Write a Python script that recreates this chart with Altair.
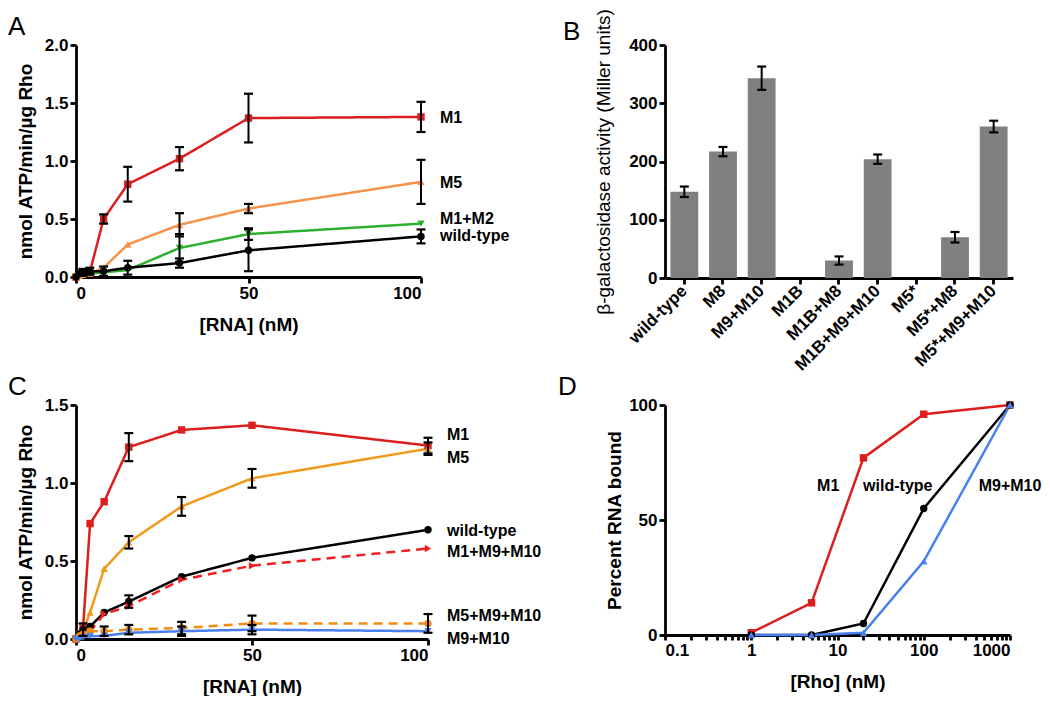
import altair as alt
import pandas as pd

FONT = "Liberation Sans"

# ---------------- Panel A ----------------
RNA_NM = [0, 1, 2, 4, 8, 15, 30, 50, 100]
A_SERIES = ["M1", "M5", "M1+M2", "wild-type"]
A_M1 = [0.0, 0.03, 0.04, 0.04, 0.50, 0.80, 1.02, 1.37, 1.38]
A_M1_ERR = [0, 0, 0.01, 0.01, 0.04, 0.15, 0.10, 0.21, 0.13]
A_M5 = [0.0, 0.01, 0.02, 0.03, 0.08, 0.28, 0.45, 0.59, 0.82]
A_M5_ERR = [0, 0, 0, 0, 0, 0, 0.10, 0.04, 0.19]
A_M1M2 = [0.0, 0.01, 0.02, 0.03, 0.04, 0.06, 0.25, 0.37, 0.46]
A_M1M2_ERR = [0, 0, 0, 0, 0, 0, 0.12, 0.05, 0]
A_WT = [0.0, 0.03, 0.04, 0.05, 0.05, 0.08, 0.12, 0.23, 0.35]
A_WT_ERR = [0, 0.02, 0.03, 0.03, 0.04, 0.06, 0.04, 0.18, 0.06]
A_COLORS = ["#dc1e1e", "#f5924c", "#2eb02e", "#000000"]
A_SHAPES = ["square", "triangle-up", "triangle-down", "circle"]
A_LABEL_Y = [1.37, 0.81, 0.50, 0.35]

# ---------------- Panel B ----------------
B_CATS = ["wild-type", "M8", "M9+M10", "M1B", "M1B+M8", "M1B+M9+M10",
          "M5*", "M5*+M8", "M5*+M9+M10"]
B_VALS = [148, 217, 343, 0, 30, 204, 0, 70, 260]
B_ERR = [9, 8, 20, 0, 7, 8, 0, 9, 10]

# ---------------- Panel C ----------------
C_SERIES = ["M1", "M5", "wild-type", "M1+M9+M10", "M5+M9+M10", "M9+M10"]
C_M1 = [0.0, 0.03, 0.07, 0.74, 0.88, 1.23, 1.34, 1.37, 1.24]
C_M1_ERR = [0, 0, 0, 0, 0, 0.09, 0, 0, 0.05]
C_M5 = [0.0, 0.02, 0.05, 0.17, 0.45, 0.62, 0.85, 1.03, 1.22]
C_M5_ERR = [0, 0, 0, 0, 0, 0.04, 0.06, 0.06, 0.04]
C_WT = [0.0, 0.03, 0.06, 0.08, 0.17, 0.24, 0.40, 0.52, 0.70]
C_WT_ERR = [0, 0, 0.04, 0, 0, 0.04, 0, 0, 0]
C_M1M9M10 = [0.0, 0.01, 0.02, 0.05, 0.16, 0.21, 0.38, 0.47, 0.58]
C_M1M9M10_ERR = [0, 0, 0, 0, 0, 0, 0, 0, 0]
C_M5M9M10 = [0.0, 0.02, 0.03, 0.05, 0.05, 0.06, 0.07, 0.10, 0.10]
C_M5M9M10_ERR = [0, 0, 0, 0, 0.03, 0.03, 0.04, 0.05, 0.06]
C_M9M10 = [0.0, 0.0, 0.01, 0.02, 0.02, 0.04, 0.05, 0.06, 0.05]
C_M9M10_ERR = [0, 0, 0, 0, 0, 0, 0.03, 0.03, 0]
C_COLORS = ["#dc1e1e", "#ef9a1c", "#000000", "#f02020", "#f28c10", "#4a7ff0"]
C_SHAPES = ["square", "triangle-up", "circle", "triangle-right", "circle", "triangle-down"]
C_DASH = [[1, 0], [1, 0], [1, 0], [9, 6], [9, 6], [1, 0]]
C_LABEL_Y = [1.31, 1.16, 0.69, 0.56, 0.15, 0.0]

# ---------------- Panel D ----------------
RHO_NM = [1, 5, 20, 100, 1000]
D_SERIES = ["M1", "wild-type", "M9+M10"]
D_M1 = [1, 14, 77, 96, 100]
D_WT = [0, 0, 5, 55, 100]
D_M9M10 = [0, 0, 1, 32, 100]
D_COLORS = ["#dc1e1e", "#000000", "#4a7ff0"]
D_SHAPES = ["square", "circle", "triangle-up"]
D_LABEL_X = [7.8, 50, 1000]
D_LABEL_Y = [65, 65, 65]
D_MAJOR = [0.1, 1, 10, 100, 1000]
D_MINOR = [m * d for d in [0.1, 1, 10, 100] for m in range(2, 10)]


def long_df(x, names, ys, errs):
    rows = []
    for name, y, e in zip(names, ys, errs):
        for xi, yi, ei in zip(x, y, e):
            rows.append(dict(x=xi, y=yi, lo=yi - ei, hi=yi + ei, err=ei, series=name))
    return pd.DataFrame(rows)


def xy_panel(df, labels, series, colors, shapes, dashes, xdom, ydom, yvals,
             ytitle, w, h, letter, label_dx, title_dy):
    xs = alt.Scale(domain=xdom, nice=False, zero=False)
    ys = alt.Scale(domain=ydom, nice=False)
    xax = alt.Axis(values=[0, 50, 100], title="[RNA] (nM)", titlePadding=14)
    yax = alt.Axis(values=yvals, format=".1f", title=ytitle, titlePadding=9)
    X = lambda f: alt.X(f, type="quantitative", scale=xs, axis=xax)
    Y = lambda f: alt.Y(f, type="quantitative", scale=ys, axis=yax)
    col = alt.Color("series:N", scale=alt.Scale(domain=series, range=colors), legend=None)
    shp = alt.Shape("series:N", scale=alt.Scale(domain=series, range=shapes), legend=None)
    dsh = alt.StrokeDash("series:N", scale=alt.Scale(domain=series, range=dashes), legend=None)
    base = alt.Chart(df)
    lines = base.mark_line(strokeWidth=2.5).encode(x=X("x"), y=Y("y"), color=col, strokeDash=dsh)
    pts = base.mark_point(filled=True, size=55, opacity=1).encode(
        x=X("x"), y=Y("y"), color=col, shape=shp)
    edf = df[df.err > 0]
    ebar = alt.Chart(edf).mark_rule(color="black", strokeWidth=2).encode(
        x=X("x"), y=Y("lo"), y2="hi:Q")
    cap_lo = alt.Chart(edf).mark_tick(orient="horizontal", color="black", size=9,
                                      thickness=2.2, opacity=1).encode(x=X("x"), y=Y("lo"))
    cap_hi = alt.Chart(edf).mark_tick(orient="horizontal", color="black", size=9,
                                      thickness=2.2, opacity=1).encode(x=X("x"), y=Y("hi"))
    lab = alt.Chart(labels).mark_text(align="left", baseline="middle", dx=label_dx,
                                      font=FONT, fontSize=16, fontWeight="bold",
                                      color="black").encode(x=X("x"), y=Y("y"), text="series:N")
    return alt.layer(lines, pts, ebar, cap_lo, cap_hi, lab).properties(
        width=w, height=h,
        title=alt.TitleParams(letter, frame="group", anchor="start", dx=-68, dy=title_dy))


dfA = long_df(RNA_NM, A_SERIES, [A_M1, A_M5, A_M1M2, A_WT],
              [A_M1_ERR, A_M5_ERR, A_M1M2_ERR, A_WT_ERR])
labA = pd.DataFrame(dict(x=[100] * len(A_SERIES), y=A_LABEL_Y, series=A_SERIES))
panelA = xy_panel(dfA, labA, A_SERIES, A_COLORS, A_SHAPES, [[1, 0]] * 4,
                  [0, 100], [0, 2], [0, 0.5, 1, 1.5, 2],
                  "nmol ATP/min/µg Rho", 345, 232, "A", 19, 8)

dfC = long_df(RNA_NM, C_SERIES, [C_M1, C_M5, C_WT, C_M1M9M10, C_M5M9M10, C_M9M10],
              [C_M1_ERR, C_M5_ERR, C_WT_ERR, C_M1M9M10_ERR, C_M5M9M10_ERR, C_M9M10_ERR])
labC = pd.DataFrame(dict(x=[100] * len(C_SERIES), y=C_LABEL_Y, series=C_SERIES))
panelC = xy_panel(dfC, labC, C_SERIES, C_COLORS, C_SHAPES, C_DASH,
                  [0, 100], [0, 1.5], [0, 0.5, 1, 1.5],
                  "nmol ATP/min/µg Rho", 352, 234, "C", 19, 8)

# ---- Panel B (bars) ----
dfB = pd.DataFrame(dict(cat=B_CATS, val=B_VALS, err=B_ERR))
dfB["lo"] = dfB.val - dfB.err
dfB["hi"] = dfB.val + dfB.err
bx = alt.X("cat:N", sort=B_CATS,
           scale=alt.Scale(paddingInner=0.28, paddingOuter=0.14),
           axis=alt.Axis(title=None, labelAngle=-45, labelAlign="right",
                         labelBaseline="middle", labelFontSize=17, labelPadding=4))
byax = alt.Axis(values=[0, 100, 200, 300, 400], title="β-galactosidase activity (Miller units)",
                titleFontWeight="normal", titleFontSize=19, titlePadding=15)
bys = alt.Scale(domain=[0, 400], nice=False)
bars = alt.Chart(dfB).mark_bar(color="#808080").encode(
    x=bx, y=alt.Y("val:Q", scale=bys, axis=byax))
edfB = dfB[dfB.err > 0]
bErr = alt.Chart(edfB).mark_rule(color="black", strokeWidth=2).encode(
    x=bx, y=alt.Y("lo:Q", scale=bys, axis=byax), y2="hi:Q")
bCapLo = alt.Chart(edfB).mark_tick(color="black", size=9, thickness=2.2, opacity=1).encode(
    x=bx, y=alt.Y("lo:Q", scale=bys, axis=byax))
bCapHi = alt.Chart(edfB).mark_tick(color="black", size=9, thickness=2.2, opacity=1).encode(
    x=bx, y=alt.Y("hi:Q", scale=bys, axis=byax))
panelB = alt.layer(bars, bErr, bCapLo, bCapHi).properties(
    width=348, height=233,
    title=alt.TitleParams("B", frame="group", anchor="start", dx=-102, dy=40))

# ---- Panel D ----
dfD = pd.DataFrame([dict(x=xv, y=yv, series=s)
                    for s, ys_ in zip(D_SERIES, [D_M1, D_WT, D_M9M10])
                    for xv, yv in zip(RHO_NM, ys_)])
labD = pd.DataFrame(dict(x=D_LABEL_X, y=D_LABEL_Y, series=D_SERIES))
dxs = alt.Scale(type="log", domain=[0.1, 1000], nice=False)
dys = alt.Scale(domain=[0, 100], nice=False)
dxax = alt.Axis(values=D_MAJOR + D_MINOR, title="[Rho] (nM)", titlePadding=14,
                labelExpr="abs(log(datum.value)/LN10 - round(log(datum.value)/LN10)) < 0.001 ? format(datum.value, '~g') : ''",
                labelOverlap=False, tickSize=5)
dyax = alt.Axis(values=[0, 50, 100], title="Percent RNA bound", titlePadding=4)
DX = alt.X("x:Q", scale=dxs, axis=dxax)
DY = alt.Y("y:Q", scale=dys, axis=dyax)
dcol = alt.Color("series:N", scale=alt.Scale(domain=D_SERIES, range=D_COLORS), legend=None)
dshp = alt.Shape("series:N", scale=alt.Scale(domain=D_SERIES, range=D_SHAPES), legend=None)
dLines = alt.Chart(dfD).mark_line(strokeWidth=2.5).encode(x=DX, y=DY, color=dcol)
dPts = alt.Chart(dfD).mark_point(filled=True, size=55, opacity=1).encode(
    x=DX, y=DY, color=dcol, shape=dshp)
dLab = alt.Chart(labD).mark_text(align="center", baseline="middle", font=FONT, fontSize=16,
                                 fontWeight="bold", color="black").encode(
    x=DX, y=DY, text="series:N")
panelD = alt.layer(dLines, dPts, dLab).properties(
    width=345, height=230,
    title=alt.TitleParams("D", frame="group", anchor="start", dx=-107, dy=8))

chart = alt.concat(panelA, panelB, panelC, panelD, columns=2, bounds="flush",
                   spacing={"row": 127, "column": 237}).resolve_scale(
    color="independent", shape="independent", strokeDash="independent"
).properties(
    padding={"left": 0, "top": 0, "right": 0, "bottom": 0}
).configure_view(stroke=None).configure_axis(
    domainColor="black", domainWidth=2.8, tickColor="black", tickWidth=2.8, tickSize=6,
    labelFont=FONT, labelFontSize=17, labelFontWeight="bold", labelColor="black",
    labelPadding=2, titleFont=FONT, titleFontSize=19, titleFontWeight="bold",
    titleColor="black", grid=False
).configure_title(font=FONT, fontSize=26, fontWeight="normal", anchor="start",
                  color="black")

chart.save("out.html", embed_options={"renderer": "svg", "actions": False})
